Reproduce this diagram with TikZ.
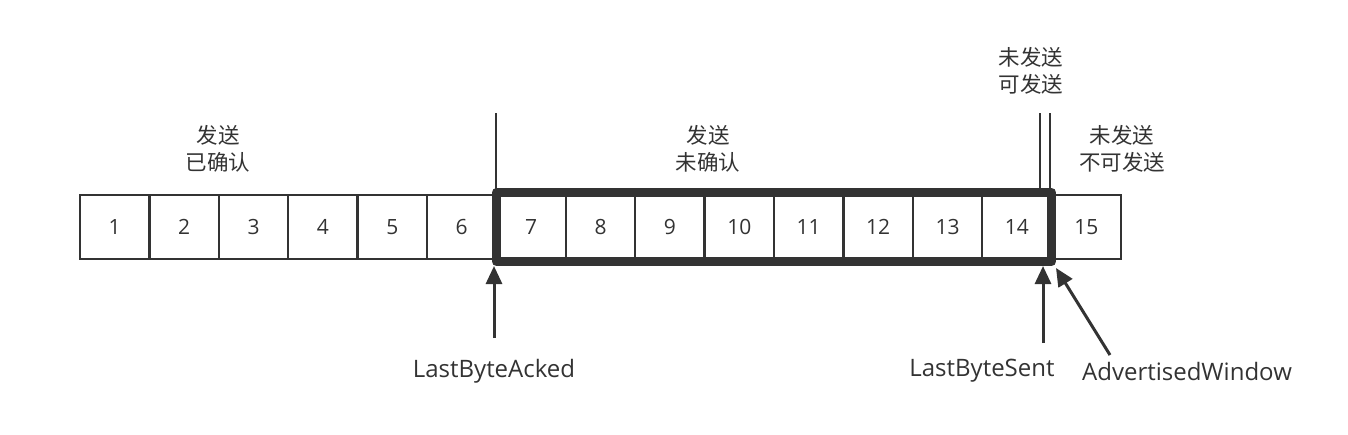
\documentclass[tikz,border=0pt]{standalone}
\usepackage{fontspec}
\setmainfont{Open Sans}
\newfontfamily\cjk{Noto Sans CJK SC}
\usetikzlibrary{arrows.meta}
\definecolor{ink}{HTML}{333333}
\begin{document}
\begin{tikzpicture}[x=1pt,y=-1pt,
  cell/.style={draw=ink,line width=2.5pt,minimum width=69.4pt,minimum height=64pt,inner sep=0pt,outer sep=0pt,text=ink,font=\fontsize{21}{24}\selectfont},
  zh/.style={align=center,text=ink,inner sep=0pt,font=\cjk\fontsize{21.5}{26.5}\selectfont},
  en/.style={text=ink,inner sep=0pt,font=\fontsize{24}{28}\selectfont},
  wline/.style={draw=ink,line width=2.5pt},
  winbox/.style={draw=ink,line width=9pt,line join=round},
  arr/.style={draw=ink,line width=3pt,-{Triangle[length=18pt,width=16pt]}}]
\useasboundingbox (0,0) rectangle (1348,434);
\foreach \i in {1,...,15}
  \node[cell] (c\i) at ({80+(\i-0.5)*69.4},227) {\i};
\draw[winbox] ([yshift=2.5pt]c7.north west) rectangle ([yshift=-2.5pt]c14.south east);
% labels above
\node[zh] (sa) at (218,149) {发送\\已确认};
\node[zh] (su) at (708,149) {发送\\未确认};
\node[zh] (ns) at (1031,71) {未发送\\可发送};
\node[zh] (nn) at (1122,149) {未发送\\不可发送};
% vertical markers
\coordinate (m1) at (496,113);
\coordinate (m2) at (1040,113);
\coordinate (m3) at (1050,113);
\draw[wline] (m1) -- (m1 |- c7.north);
\draw[wline] (m2) -- ([yshift=6pt]m2 |- c14.north);
\draw[wline] (m3) -- ([yshift=6pt]m3 |- c14.north);
% pointer labels
\node[en] (lba) at (494,371) {LastByteAcked};
\node[en] (lbs) at (982,371) {LastByteSent};
\node[en] (adw) at (1187,371) {AdvertisedWindow};
\coordinate (a1) at (494,338);
\coordinate (a2) at (1043,343);
\coordinate (a3) at (1110,355);
\draw[arr] (a1) -- (494,266);
\draw[arr] (a2) -- (1043,266);
\draw[arr] (a3) -- (1056,268);
\end{tikzpicture}
\end{document}
